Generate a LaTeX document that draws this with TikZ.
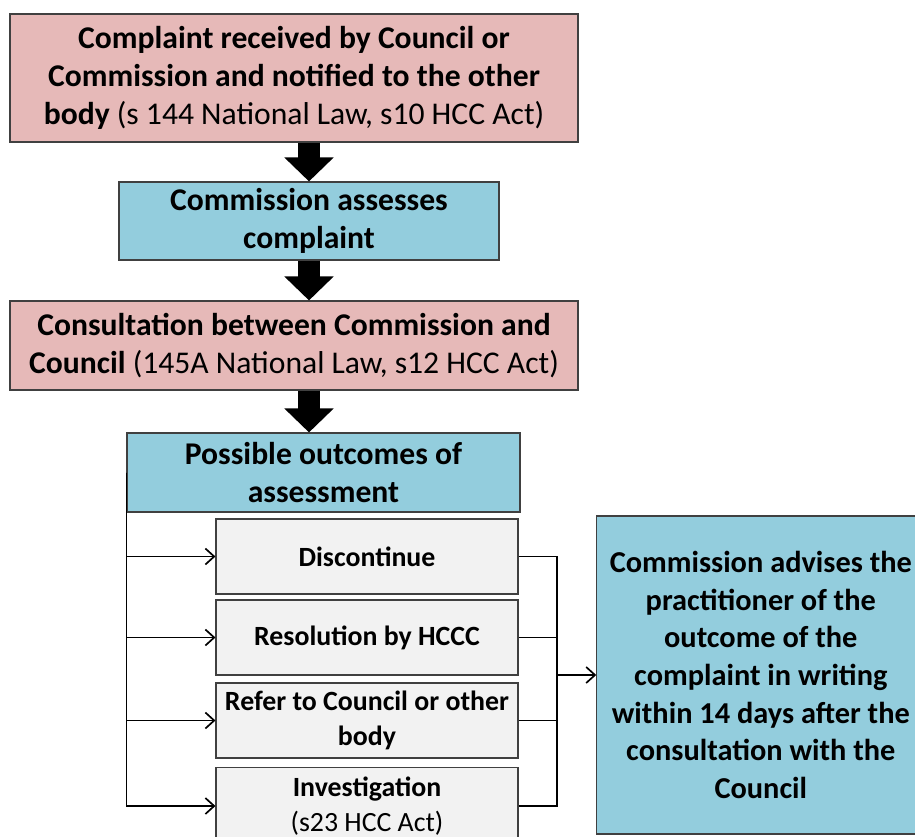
\documentclass[tikz,border=0pt]{standalone}
\usepackage{fontspec}
\setmainfont{Carlito}
\usetikzlibrary{arrows.meta, positioning, calc}
\definecolor{pinkbox}{RGB}{230,185,184}
\definecolor{bluebox}{RGB}{147,205,221}
\definecolor{greybox}{RGB}{242,242,242}
\definecolor{edgecolor}{RGB}{64,64,64}

\begin{document}
\begin{tikzpicture}[
  box/.style={draw=edgecolor, line width=0.8pt, align=center, inner sep=2pt,
    font=\fontsize{22.5}{26.8}\selectfont\bfseries},
  outbox/.style={box, fill=greybox, minimum width=7.55cm, minimum height=1.875cm,
    font=\fontsize{19.8}{24.5}\selectfont\bfseries},
  bigarrow/.style={line width=0.55cm, -{Triangle[length=0.6cm,width=1.2cm]}},
  link/.style={line width=1.2pt, -{Straight Barb[length=0.22cm,width=0.4cm]}}
]
\useasboundingbox (0,0) rectangle (22.875,-20.9);

% Steps
\node[box, fill=pinkbox, minimum width=14.2cm, minimum height=3.2cm] (received) at (7.35,-1.95)
  {Complaint received by Council or\\Commission and notified to the other\\body {\mdseries (s 144 National Law, s10 HCC Act)}};
\node[box, fill=bluebox, minimum width=9.5cm, minimum height=1.95cm] (assess) at (7.725,-5.525)
  {Commission assesses\\complaint};
\node[box, fill=pinkbox, minimum width=14.2cm, minimum height=2.225cm] (consult) at (7.35,-8.6375)
  {Consultation between Commission and\\Council {\mdseries (145A National Law, s12 HCC Act)}};
\node[box, fill=bluebox, minimum width=9.825cm, minimum height=1.975cm] (outcomes) at (8.0875,-11.8125)
  {Possible outcomes of\\assessment};

\draw[bigarrow] (received.south -| assess.north) -- (assess.north);
\draw[bigarrow] (assess.south) -- (assess.south |- consult.north);
\draw[bigarrow] (consult.south -| assess.south) -- (outcomes.north -| assess.south);

% Outcomes
\node[outbox] (discontinue) at (9.175,-13.9125) {Discontinue};
\node[outbox] (resolution) at (9.175,-15.9375) {Resolution by HCCC};
\node[outbox] (refer) at (9.175,-18.0125) {Refer to Council or other\\body};
\node[outbox, minimum height=1.925cm] (investigation) at (9.175,-20.15)
  {Investigation\\{\mdseries (s23 HCC Act)}};

\node[box, fill=bluebox, minimum width=8.2cm, minimum height=7.95cm,
  font=\fontsize{21.6}{26.8}\selectfont\bfseries] (advise) at (19.02,-16.875)
  {Commission advises the\\practitioner of the\\outcome of the\\complaint in writing\\within 14 days after the\\consultation with the\\Council};

\coordinate (join) at (13.925,-16.875);
\foreach \o in {discontinue, resolution, refer, investigation} {
  \draw[link] (outcomes.west) |- (\o.west);
  \draw[line width=1.2pt] (\o.east) -| (join);
}
\draw[link] (join) -- (advise.west);
\end{tikzpicture}
\end{document}
